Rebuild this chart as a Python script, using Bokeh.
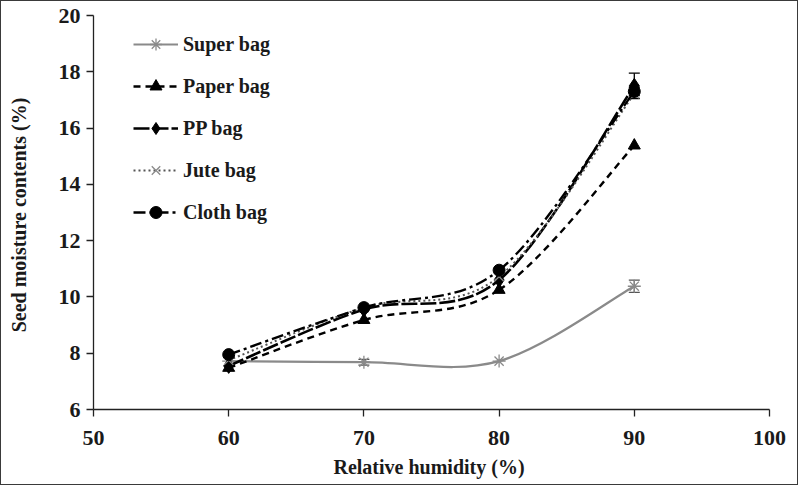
import numpy as np
from bokeh.plotting import figure
from bokeh.models import (Legend, LegendItem, ColumnDataSource, Whisker, TeeHead,
                          FixedTicker, Range1d)
from bokeh.embed import file_html
from bokeh.resources import INLINE

# ---- data ----
humidity = [60, 70, 80, 90]
super_bag = [7.72, 7.68, 7.72, 10.38]
paper_bag = [7.48, 9.18, 10.25, 15.38]
pp_bag = [7.55, 9.55, 10.6, 17.5]
jute_bag = [7.75, 9.62, 10.72, 17.22]
cloth_bag = [7.95, 9.62, 10.95, 17.3]

super_err = [0.0, 0.1, 0.0, 0.22]
pp_err = [0.0, 0.0, 0.0, 0.45]
cloth_err = [0.0, 0.0, 0.0, 0.15]

x_ticks = [50, 60, 70, 80, 90, 100]
y_ticks = [6, 8, 10, 12, 14, 16, 18, 20]

FONT = "Liberation Serif"

p = figure(width=798, height=485, output_backend="svg", toolbar_location=None,
           x_range=Range1d(50, 100), y_range=Range1d(6, 20),
           min_border_left=92, min_border_right=30, min_border_top=14, min_border_bottom=77,
           styles={"border": "1px solid #3a3a3a"})
p.grid.visible = False
p.outline_line_color = None
p.background_fill_color = "white"
p.border_fill_color = "white"

for ax in (p.xaxis[0], p.yaxis[0]):
    ax.major_label_text_font = FONT
    ax.major_label_text_font_style = "bold"
    ax.major_label_text_font_size = "22px"
    ax.major_label_text_color = "#1a1a1a"
    ax.axis_label_text_font = FONT
    ax.axis_label_text_font_style = "bold"
    ax.axis_label_text_font_size = "20px"
    ax.axis_label_text_color = "#1a1a1a"
    ax.minor_tick_line_color = None
    ax.major_tick_out = 7
    ax.major_tick_in = 0
    ax.axis_line_width = 1.3
    ax.major_tick_line_width = 1.3
    ax.axis_line_color = "#222222"
    ax.major_tick_line_color = "#222222"

p.xaxis.ticker = FixedTicker(ticks=x_ticks)
p.yaxis.ticker = FixedTicker(ticks=y_ticks)
p.xaxis.axis_label = "Relative humidity  (%)"
p.yaxis.axis_label = "Seed moisture contents  (%)"
p.xaxis.major_label_standoff = 14
p.yaxis.major_label_standoff = 6
p.xaxis.axis_label_standoff = 8
p.yaxis.axis_label_standoff = 26


def smooth_segments(xs, ys):
    """Catmull-Rom style (Excel smoothed line) bezier segments through the data points."""
    n = len(xs)
    X = [xs[0]] + list(xs) + [xs[-1]]
    Y = [ys[0]] + list(ys) + [ys[-1]]
    d = dict(x0=[], y0=[], x1=[], y1=[], cx0=[], cy0=[], cx1=[], cy1=[])
    for i in range(1, n):
        d["x0"].append(X[i]); d["y0"].append(Y[i])
        d["x1"].append(X[i + 1]); d["y1"].append(Y[i + 1])
        d["cx0"].append(X[i] + (X[i + 1] - X[i - 1]) / 6)
        d["cy0"].append(Y[i] + (Y[i + 1] - Y[i - 1]) / 6)
        d["cx1"].append(X[i + 1] - (X[i + 2] - X[i]) / 6)
        d["cy1"].append(Y[i + 1] - (Y[i + 2] - Y[i]) / 6)
    return d


series = [
    ("Super bag", super_bag, dict(line_color="#8a8a8a", line_width=2.2, line_dash="solid"),
     dict(marker="asterisk", size=13, line_color="#8a8a8a", fill_color="#8a8a8a", line_width=1.3), super_err),
    ("Paper bag", paper_bag, dict(line_color="black", line_width=2.4, line_dash="7 5"),
     dict(marker="triangle", size=12, line_color="black", fill_color="black"), None),
    ("PP bag", pp_bag, dict(line_color="black", line_width=2.6, line_dash="16 3"),
     dict(marker="diamond", size=15, line_color="black", fill_color="black"), pp_err),
    ("Jute bag", jute_bag, dict(line_color="#555555", line_width=2.0, line_dash="2 3"),
     dict(marker="x", size=13, line_color="#8a8a8a", line_width=1.3), None),
    ("Cloth bag", cloth_bag, dict(line_color="black", line_width=2.4, line_dash="12 4 3 4"),
     dict(marker="circle", size=12, line_color="black", fill_color="black"), cloth_err),
]

items = []
for label, vals, lstyle, mstyle, err in series:
    seg = ColumnDataSource(smooth_segments(humidity, vals))
    p.bezier(x0="x0", y0="y0", x1="x1", y1="y1", cx0="cx0", cy0="cy0",
             cx1="cx1", cy1="cy1", source=seg, **lstyle)
    leg_line = p.line(x=[np.nan], y=[np.nan], **lstyle)
    sc = p.scatter(x=humidity, y=vals, **mstyle)
    if err is not None:
        xs, lo, hi = [], [], []
        for xv, yv, ev in zip(humidity, vals, err):
            if ev > 0:
                xs.append(xv); lo.append(yv - ev); hi.append(yv + ev)
        src = ColumnDataSource(dict(x=xs, lower=lo, upper=hi))
        col = "#555555" if label == "Super bag" else "black"
        w = Whisker(base="x", lower="lower", upper="upper", source=src,
                    line_color=col, line_width=1.3,
                    upper_head=TeeHead(size=11, line_color=col, line_width=1.3),
                    lower_head=TeeHead(size=11, line_color=col, line_width=1.3))
        p.add_layout(w)
    items.append(LegendItem(label=label, renderers=[leg_line, sc]))

legend = Legend(items=items, location=(40, 182), orientation="vertical",
                label_text_font=FONT, label_text_font_style="bold",
                label_text_font_size="20px", label_text_color="#1a1a1a",
                glyph_width=45, glyph_height=30, label_height=30,
                spacing=12, padding=0, label_standoff=5,
                border_line_color=None, background_fill_alpha=0)
p.add_layout(legend, "center")

open("out.html", "w").write(file_html(p, INLINE))
